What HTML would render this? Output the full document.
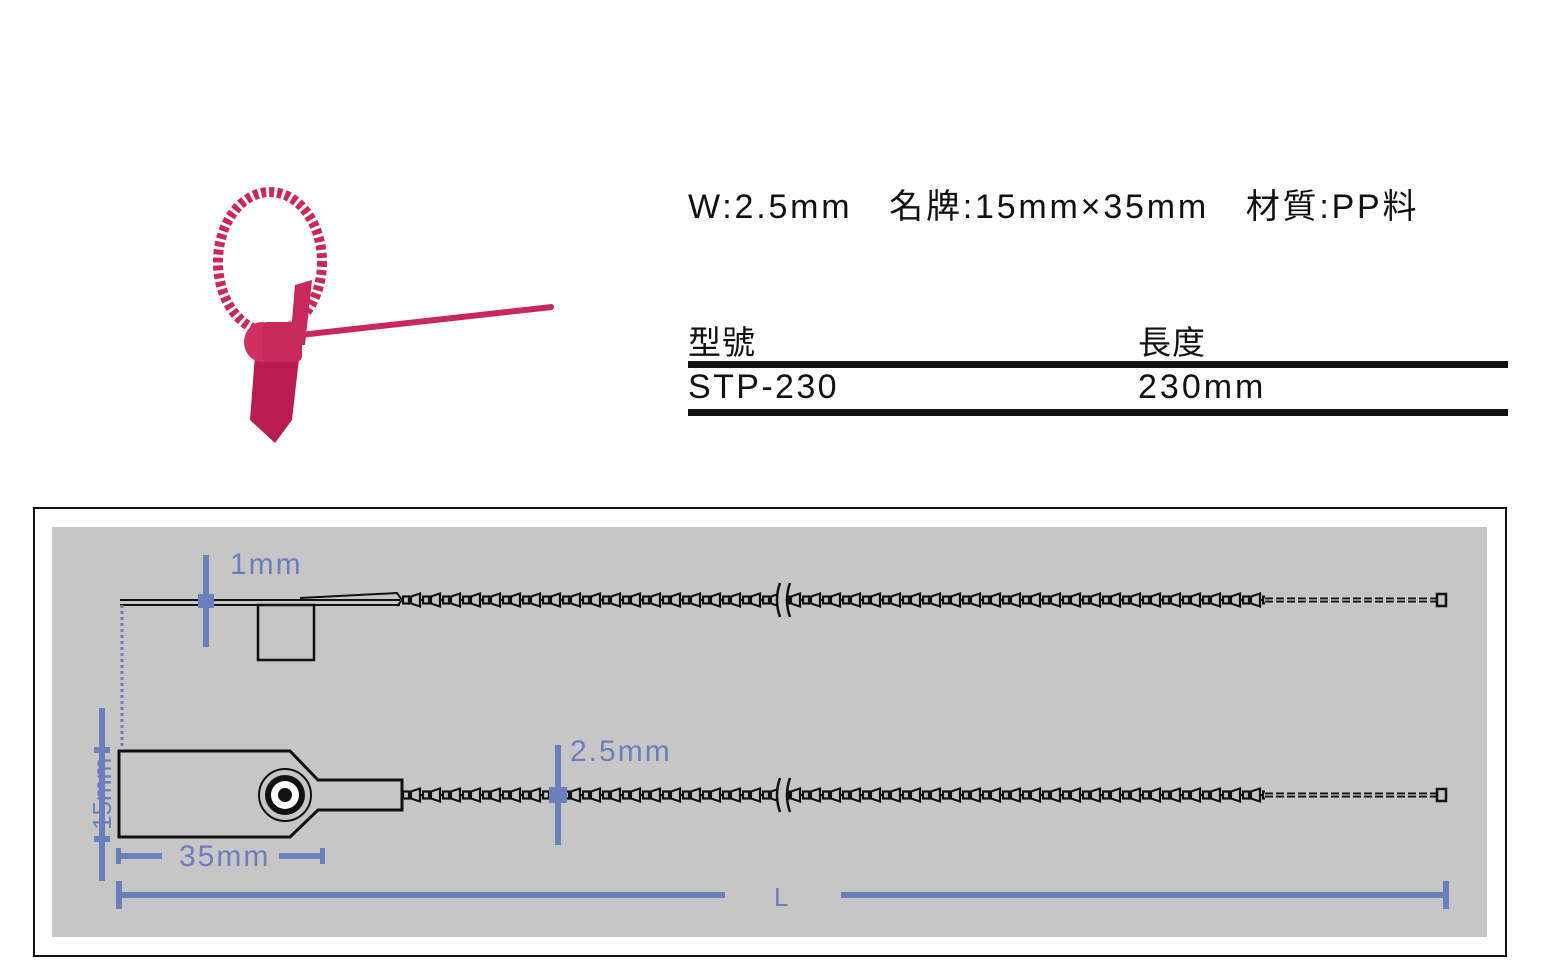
<!DOCTYPE html>
<html><head><meta charset="utf-8"><style>
html,body{margin:0;padding:0;background:#fff;}
body{width:1544px;height:963px;position:relative;overflow:hidden;font-family:"Liberation Sans","Noto Sans CJK TC",sans-serif;}
.t{position:absolute;color:#111;white-space:nowrap;}
</style></head><body>
<div class="t" style="left:688px;top:179px;font-size:34px;letter-spacing:2.8px;">W:2.5mm&nbsp;&nbsp;&nbsp;名牌:15mm×35mm&nbsp;&nbsp;&nbsp;材質:PP料</div>
<div class="t" style="left:688px;top:316px;font-size:33px;letter-spacing:1px;">型號</div>
<div class="t" style="left:1138px;top:316px;font-size:33px;letter-spacing:1px;">長度</div>
<div style="position:absolute;left:688px;top:361px;width:820px;height:7px;background:#111;"></div>
<div class="t" style="left:688px;top:368px;font-size:34px;letter-spacing:2.4px;">STP-230</div>
<div class="t" style="left:1138px;top:368px;font-size:34px;letter-spacing:3px;">230mm</div>
<div style="position:absolute;left:688px;top:409px;width:820px;height:7px;background:#111;"></div>

<svg width="1544" height="963" style="position:absolute;left:0;top:0">
<defs>
<pattern id="bd" width="20" height="20" patternUnits="userSpaceOnUse" x="402" y="590">
<line x1="0" y1="10" x2="20" y2="10" stroke="#111" stroke-width="2"/>
<rect x="1" y="6.5" width="6" height="7" fill="#c6c6c6" stroke="#111" stroke-width="2.2"/>
<path d="M9 6.5 L18 3.5 L18 16.5 L9 13.5 Z" fill="#c6c6c6" stroke="#111" stroke-width="2.2"/>
</pattern>
<pattern id="bd2" width="20" height="20" patternUnits="userSpaceOnUse" x="402" y="785">
<line x1="0" y1="10" x2="20" y2="10" stroke="#111" stroke-width="2"/>
<rect x="1" y="6.5" width="6" height="7" fill="#c6c6c6" stroke="#111" stroke-width="2.2"/>
<path d="M9 6.5 L18 3.5 L18 16.5 L9 13.5 Z" fill="#c6c6c6" stroke="#111" stroke-width="2.2"/>
</pattern>
</defs>
<g fill="#c8285a" stroke="none">
<ellipse cx="270" cy="262" rx="52" ry="70" fill="none" stroke="#c8285a" stroke-width="10" stroke-dasharray="5 3"/>
<path d="M295 285 L312 280 L305 345 L290 345 Z"/>
<path d="M300 335 Q430 320 552 307" fill="none" stroke="#c8285a" stroke-width="6"/>
<path d="M255 355 L300 350 L292 420 L275 443 L250 420 Z" fill="#b81c50"/>
<ellipse cx="262" cy="342" rx="18" ry="20" fill="#d03060"/>
<rect x="262" y="322" width="40" height="40" rx="6" fill="#c8285a"/>
<circle cx="551" cy="307" r="3"/>
</g>
<rect x="34" y="508" width="1472" height="448" fill="#fff" stroke="#111" stroke-width="2"/>
<rect x="52" y="527" width="1435" height="410" fill="#c6c6c6"/>
<line x1="120" y1="600" x2="400" y2="600" stroke="#111" stroke-width="2"/>
<line x1="120" y1="605" x2="400" y2="605" stroke="#111" stroke-width="2"/>
<path d="M300 598 L397 593 L402 600 L397 606" fill="none" stroke="#111" stroke-width="2"/>
<rect x="258" y="605" width="56" height="55" fill="none" stroke="#111" stroke-width="2.5"/>
<rect x="402" y="590" width="375" height="20" fill="url(#bd)"/>
<rect x="787" y="590" width="478" height="20" fill="url(#bd)"/>
<line x1="1265" y1="600" x2="1438" y2="600" stroke="#111" stroke-width="5" stroke-dasharray="8 3"/>
<line x1="1265" y1="600" x2="1438" y2="600" stroke="#c6c6c6" stroke-width="1.2"/>
<rect x="1437" y="594" width="9" height="12" fill="none" stroke="#111" stroke-width="2.5"/>
<path d="M780 583 Q774 600 780 617 M790 583 Q784 600 790 617" fill="none" stroke="#111" stroke-width="2.5"/>
<path d="M119 751 L290 751 L318 780 L402 780 L402 810 L318 810 L290 837 L119 837 Z" fill="none" stroke="#111" stroke-width="3"/>
<circle cx="285" cy="795" r="26" fill="#c6c6c6" stroke="#111" stroke-width="2"/>
<circle cx="285" cy="795" r="20" fill="#111"/>
<circle cx="285" cy="795" r="14" fill="#fff"/>
<circle cx="285" cy="795" r="7" fill="#111"/>
<rect x="402" y="785" width="375" height="20" fill="url(#bd2)"/>
<rect x="787" y="785" width="478" height="20" fill="url(#bd2)"/>
<line x1="1265" y1="795" x2="1438" y2="795" stroke="#111" stroke-width="5" stroke-dasharray="8 3"/>
<line x1="1265" y1="795" x2="1438" y2="795" stroke="#c6c6c6" stroke-width="1.2"/>
<rect x="1437" y="789" width="9" height="12" fill="none" stroke="#111" stroke-width="2.5"/>
<path d="M780 778 Q774 795 780 812 M790 778 Q784 795 790 812" fill="none" stroke="#111" stroke-width="2.5"/>
<g fill="#6b7fba" stroke="#6b7fba">
<line x1="122" y1="605" x2="122" y2="750" stroke-width="3" stroke-dasharray="3 3"/>
<rect x="203" y="555" width="6" height="92" stroke="none"/>
<rect x="198" y="594" width="16" height="14" stroke="none"/>
<rect x="555" y="745" width="6" height="100" stroke="none"/>
<rect x="549" y="787" width="18" height="16" stroke="none"/>
<rect x="99" y="708" width="6" height="173" stroke="none"/>
<rect x="94" y="747" width="16" height="6" stroke="none"/>
<rect x="94" y="836" width="16" height="6" stroke="none"/>
<rect x="116" y="848" width="5" height="16" stroke="none"/>
<rect x="116" y="853" width="46" height="6" stroke="none"/>
<rect x="279" y="853" width="42" height="6" stroke="none"/>
<rect x="320" y="848" width="5" height="16" stroke="none"/>
<rect x="116" y="881" width="6" height="28" stroke="none"/>
<rect x="116" y="892" width="609" height="6" stroke="none"/>
<rect x="841" y="892" width="607" height="6" stroke="none"/>
<rect x="1443" y="881" width="6" height="28" stroke="none"/>
</g>
<g fill="#6b7fba" font-family="Liberation Sans, sans-serif" font-size="30">
<text x="230" y="574" letter-spacing="2">1mm</text>
<text x="570" y="761" letter-spacing="2">2.5mm</text>
<text x="179" y="866" letter-spacing="2">35mm</text>
<text x="774" y="906" font-size="26">L</text>
<text transform="translate(111,830) rotate(-90)" font-size="26">15mm</text>
</g>
</svg>
</body></html>
